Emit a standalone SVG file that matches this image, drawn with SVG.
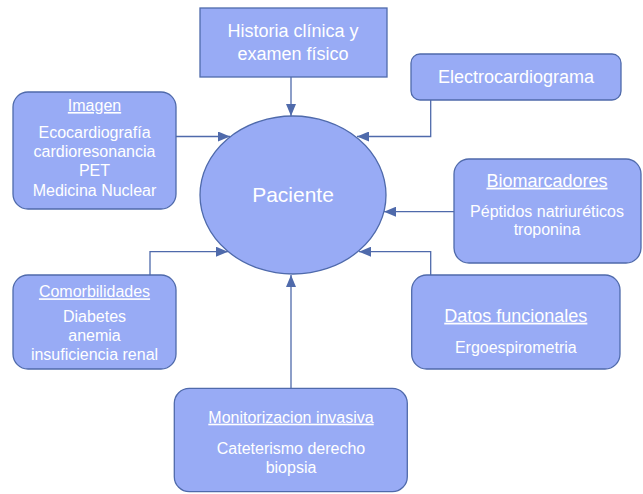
<svg xmlns="http://www.w3.org/2000/svg" width="643" height="494" viewBox="0 0 643 494">
<style>
.box{fill:#98abf5;stroke:#4f6aab;stroke-width:1.3}
.t{font-family:"Liberation Sans",Arial,sans-serif;fill:#ffffff;text-anchor:middle}
.f16{font-size:16px}
.f18{font-size:18px}
.f21{font-size:21px}
.u{text-decoration:underline}
.c{fill:none;stroke:#4f6aab;stroke-width:1.3;marker-end:url(#ah)}
</style>
<defs>
<marker id="ah" viewBox="0 0 12 10" refX="12" refY="5" markerWidth="12" markerHeight="10" markerUnits="userSpaceOnUse" orient="auto">
<path d="M0,0 L12,5 L0,10 Z" fill="#4f6aab"/>
</marker>
</defs>
<rect width="643" height="494" fill="#ffffff"/>
<g id="connectors">
<path class="c" d="M291,77 L291,116"/>
<path class="c" d="M176,136.5 L230,136.5"/>
<path class="c" d="M430.7,100 L430.7,136.5 L357,136.5"/>
<path class="c" d="M454,211.7 L384,211.7"/>
<path class="c" d="M150,275 L150,251.7 L228,251.7"/>
<path class="c" d="M430.7,275 L430.7,251.7 L359,251.7"/>
<path class="c" d="M291,388 L291,275"/>
</g>
<g id="paciente">
<ellipse class="box" cx="293" cy="195" rx="93" ry="79"/>
<text class="t f21" x="293" y="202">Paciente</text>
</g>
<g id="historia">
<rect class="box" x="200" y="8" width="187" height="69"/>
<text class="t f18" x="293" y="37">Historia clínica y</text>
<text class="t f18" x="293" y="60">examen físico</text>
</g>
<g id="electro">
<rect class="box" x="411" y="54" width="210" height="46" rx="9"/>
<text class="t f18" x="516" y="82.5">Electrocardiograma</text>
</g>
<g id="imagen">
<rect class="box" x="13" y="92" width="163" height="117" rx="15"/>
<text class="t f16 u" x="94.5" y="111">Imagen</text>
<text class="t f16" x="94.5" y="137.7">Ecocardiografía</text>
<text class="t f16" x="94.5" y="157">cardioresonancia</text>
<text class="t f16" x="94.5" y="176.3">PET</text>
<text class="t f16" x="94.5" y="195.7">Medicina Nuclear</text>
</g>
<g id="biomarcadores">
<rect class="box" x="454" y="159" width="187" height="104" rx="15"/>
<text class="t f18 u" x="547" y="186.7">Biomarcadores</text>
<text class="t f16" x="547" y="216.7">Péptidos natriuréticos</text>
<text class="t f16" x="547" y="235">troponina</text>
</g>
<g id="comorbilidades">
<rect class="box" x="13" y="275" width="163" height="94" rx="15"/>
<text class="t f16 u" x="94.5" y="297.3">Comorbilidades</text>
<text class="t f16" x="94.5" y="321.7">Diabetes</text>
<text class="t f16" x="94.5" y="341">anemia</text>
<text class="t f16" x="94.5" y="360">insuficiencia renal</text>
</g>
<g id="datos">
<rect class="box" x="411.7" y="275" width="208.3" height="94" rx="15"/>
<text class="t f18 u" x="515.8" y="321.7">Datos funcionales</text>
<text class="t f16" x="515.8" y="353.3">Ergoespirometria</text>
</g>
<g id="monitorizacion">
<rect class="box" x="174.3" y="388.3" width="233" height="103.4" rx="15"/>
<text class="t f16 u" x="291" y="422.7">Monitorizacion invasiva</text>
<text class="t f16" x="291" y="454.3">Cateterismo derecho</text>
<text class="t f16" x="291" y="472.7">biopsia</text>
</g>
</svg>
